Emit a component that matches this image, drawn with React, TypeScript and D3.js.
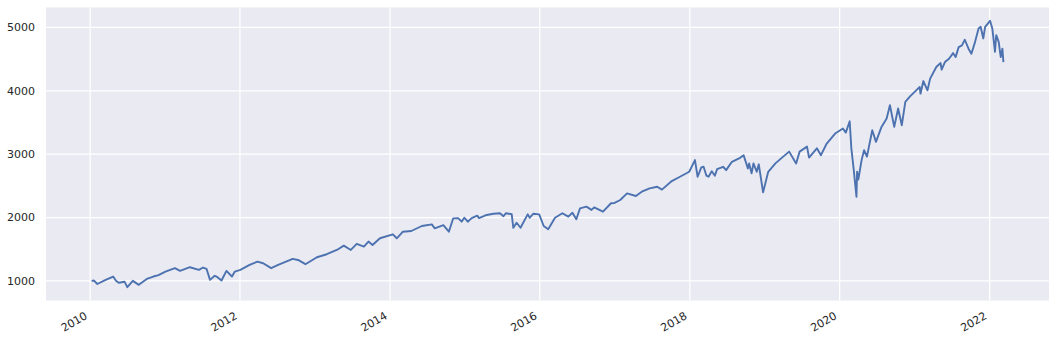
import React from "react";
import * as d3 from "d3";

const dates = [
  "2010-01-08","2010-01-20","2010-02-05","2010-03-15","2010-04-23","2010-05-07","2010-05-20","2010-06-18","2010-07-01","2010-07-28","2010-08-26","2010-10-04","2010-11-05","2010-11-30",
  "2011-01-03","2011-02-18","2011-03-15","2011-05-02","2011-06-15","2011-07-05","2011-07-22","2011-08-08","2011-08-31","2011-09-09",
  "2011-10-03","2011-10-27","2011-11-23","2011-12-07",
  "2012-01-03","2012-02-17","2012-03-26","2012-04-23","2012-06-01","2012-07-05","2012-09-14","2012-10-10","2012-11-15",
  "2013-01-10","2013-02-27","2013-04-17","2013-05-21","2013-06-24","2013-07-23","2013-08-27","2013-09-18","2013-10-08","2013-11-13",
  "2014-01-15","2014-02-03","2014-03-05","2014-04-15","2014-06-05","2014-07-24","2014-08-07","2014-09-18","2014-10-15",
  "2014-11-05","2014-11-29","2014-12-16","2014-12-29",
  "2015-01-15","2015-02-03","2015-03-02","2015-03-11","2015-04-17","2015-05-20","2015-06-21","2015-07-08","2015-07-20",
  "2015-08-17","2015-08-25","2015-09-10","2015-09-29","2015-11-03","2015-11-13","2015-12-01","2015-12-29",
  "2016-01-20","2016-02-11","2016-03-15","2016-04-20","2016-05-19","2016-06-08","2016-06-27","2016-07-15","2016-08-15",
  "2016-09-09","2016-09-22","2016-11-04","2016-12-13","2016-12-30",
  "2017-01-27","2017-03-01","2017-04-13","2017-05-12","2017-06-19","2017-07-26","2017-08-18","2017-10-05","2017-11-14","2017-12-29",
  "2018-01-26","2018-02-08","2018-02-26","2018-03-09","2018-03-23","2018-04-02","2018-04-18","2018-05-03","2018-05-14",
  "2018-06-12","2018-06-27","2018-07-25","2018-08-29","2018-09-20","2018-10-11","2018-10-17","2018-10-29","2018-11-07",
  "2018-11-23","2018-12-03","2018-12-24",
  "2019-01-18","2019-02-22","2019-04-01","2019-04-30","2019-06-03","2019-06-20","2019-07-26","2019-08-05","2019-09-12",
  "2019-10-02","2019-10-30","2019-12-10",
  "2020-01-17","2020-01-31","2020-02-19","2020-02-27","2020-03-09","2020-03-23","2020-03-26","2020-04-01","2020-04-17",
  "2020-04-29","2020-05-13","2020-06-08","2020-06-26","2020-07-23","2020-08-17","2020-09-02","2020-09-23","2020-10-12",
  "2020-10-30","2020-11-16","2020-12-09",
  "2021-01-08","2021-01-25","2021-01-29","2021-02-12","2021-03-04","2021-03-17","2021-04-16","2021-05-07","2021-05-12",
  "2021-05-28","2021-06-17","2021-07-07","2021-07-19","2021-08-03","2021-08-19","2021-09-02","2021-09-20","2021-10-04",
  "2021-10-22","2021-11-08","2021-11-18","2021-12-01","2021-12-10",
  "2022-01-03","2022-01-14","2022-01-27","2022-02-02","2022-02-14","2022-02-24","2022-03-04","2022-03-09"
];

const values = [
  1000,1005,950,1010,1068,1000,970,985,900,1000,937,1030,1068,1090,
  1146,1200,1157,1215,1173,1210,1190,1015,1080,1068,
  1005,1157,1068,1146,
  1173,1252,1304,1278,1200,1252,1346,1330,1263,
  1373,1420,1488,1556,1488,1583,1541,1620,1567,1672,
  1735,1672,1776,1787,1866,1892,1829,1880,1776,
  1987,1990,1934,1997,
  1934,1990,2030,1990,2040,2060,2068,2020,2068,
  2052,1838,1917,1838,2050,1997,2060,2050,
  1866,1815,1997,2068,2013,2075,1972,2145,2171,
  2120,2160,2092,2225,2230,
  2276,2381,2340,2407,2460,2486,2440,2575,2643,2722,
  2906,2643,2790,2801,2660,2643,2730,2660,2764,
  2801,2748,2879,2933,2984,2775,2854,2697,2854,
  2722,2840,2397,
  2722,2854,2961,3040,2854,3040,3119,2945,3092,
  2984,3168,3325,
  3404,3340,3519,3092,2775,2328,2722,2600,2906,
  3064,2961,3378,3194,3430,3562,3772,3430,3720,
  3457,3824,3913,
  4008,4060,3955,4154,4008,4192,4375,4438,4333,
  4454,4507,4595,4532,4690,4717,4806,4665,4586,
  4773,4984,5010,4827,5010,
  5105,4984,4616,4879,4773,4532,4665,4454
];

const yTicks = [1000, 2000, 3000, 4000, 5000];
const xTickYears = [2010, 2012, 2014, 2016, 2018, 2020, 2022];

export default function App() {
  const W = 1056, H = 340;
  const left = 46, right = 1049, top = 7.5, bottom = 300.5;
  const parse = d3.timeParse("%Y-%m-%d");
  const data = dates.map((d, i) => ({ date: parse(d) as Date, value: values[i] }));

  const [d0, d1] = d3.extent(data, (d) => d.date) as [Date, Date];
  const xPad = (+d1 - +d0) * 0.05;
  const x = d3.scaleTime()
    .domain([new Date(+d0 - xPad), new Date(+d1 + xPad)])
    .range([left, right]);

  const [v0, v1] = d3.extent(data, (d) => d.value) as [number, number];
  const yPad = (v1 - v0) * 0.05;
  const y = d3.scaleLinear().domain([v0 - yPad, v1 + yPad]).range([bottom, top]);

  const line = d3.line<{ date: Date; value: number }>()
    .x((d) => x(d.date))
    .y((d) => y(d.value));

  const font = "'DejaVu Sans', sans-serif";
  const textColor = "#262626";

  return (
    <svg width={W} height={H} style={{ position: "absolute", left: 0, top: 0, background: "#fff" }}>
      <rect x={left} y={top} width={right - left} height={bottom - top} fill="#EAEAF2" />
      {yTicks.map((t) => (
        <line key={"gy" + t} x1={left} x2={right} y1={y(t)} y2={y(t)} stroke="#fff" strokeWidth={1.25} />
      ))}
      {xTickYears.map((yr) => {
        const xx = x(new Date(yr, 0, 1));
        return <line key={"gx" + yr} x1={xx} x2={xx} y1={top} y2={bottom} stroke="#fff" strokeWidth={1.25} />;
      })}
      <path d={line(data) || ""} fill="none" stroke="#4C72B0" strokeWidth={1.9} strokeLinejoin="round" />
      {yTicks.map((t) => (
        <text key={"ty" + t} x={35} y={y(t)} dy="0.36em" textAnchor="end" fontFamily={font} fontSize={11} fill={textColor}>
          {t}
        </text>
      ))}
      {xTickYears.map((yr) => {
        const xx = x(new Date(yr, 0, 1)) - 2;
        const yy = 318;
        return (
          <text key={"tx" + yr} x={xx} y={yy} textAnchor="end" fontFamily={font} fontSize={11} fill={textColor}
            transform={`rotate(-30, ${xx}, ${yy})`}>
            {yr}
          </text>
        );
      })}
    </svg>
  );
}
